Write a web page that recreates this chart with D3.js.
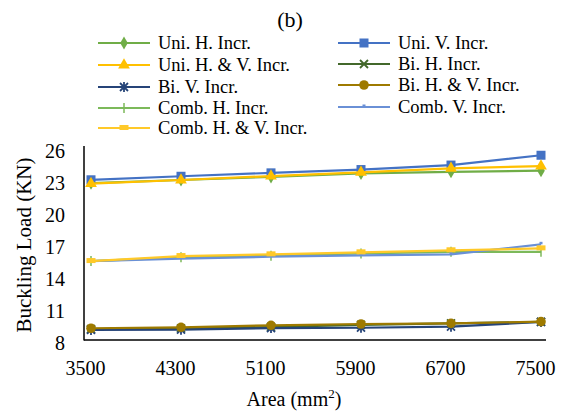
<!DOCTYPE html>
<html><head><meta charset="utf-8">
<script src="https://cdn.jsdelivr.net/npm/d3@7"></script>
<style>body{margin:0;background:#fff}svg{display:block}svg text{font-family:"Liberation Serif","Times New Roman",serif !important;fill:#000}</style>
</head><body><svg id="c" width="564" height="413"></svg>
<script>
const categories = [3500, 4300, 5100, 5900, 6700, 7500];
const yTicks = [8, 11, 14, 17, 20, 23, 26];
const uniH   = [22.7, 23.0, 23.3, 23.62, 23.77, 23.87];
const uniV   = [23.02, 23.35, 23.67, 23.98, 24.4, 25.32];
const uniHV  = [22.66, 23.0, 23.37, 23.72, 24.09, 24.31];
const biH    = [9.03, 9.1, 9.22, 9.41, 9.56, 9.69];
const biV    = [8.94, 8.97, 9.12, 9.15, 9.25, 9.69];
const biHV   = [9.1, 9.19, 9.38, 9.5, 9.56, 9.72];
const combH  = [15.4, 15.75, 15.9, 16.12, 16.27, 16.27];
const combV  = [15.4, 15.62, 15.81, 15.94, 16.03, 16.97];
const combHV = [15.4, 15.87, 16.03, 16.22, 16.41, 16.59];
const seriesNames = ["Uni. H. Incr.","Uni. V. Incr.","Uni. H. & V. Incr.","Bi. H. Incr.","Bi. V. Incr.","Bi. H. & V. Incr.","Comb. H. Incr.","Comb. V. Incr.","Comb. H. & V. Incr."];

const series = [
  {name:seriesNames[0], values:uniH,  color:"#70AD47", marker:"diamond"},
  {name:seriesNames[1], values:uniV,  color:"#4472C4", marker:"square"},
  {name:seriesNames[2], values:uniHV, color:"#FFC000", marker:"triangle"},
  {name:seriesNames[3], values:biH,   color:"#43682B", marker:"x"},
  {name:seriesNames[4], values:biV,   color:"#264478", marker:"star"},
  {name:seriesNames[5], values:biHV,  color:"#9E7A00", marker:"circle"},
  {name:seriesNames[6], values:combH, color:"#7CB95A", marker:"plus"},
  {name:seriesNames[7], values:combV, color:"#6A90D6", marker:"dot"},
  {name:seriesNames[8], values:combHV,color:"#FFC929", marker:"dash"}
];

const FONT = "'Liberation Serif','Times New Roman',serif";
const svg = d3.select("#c");
const x = d3.scalePoint().domain(categories).range([91, 541]);
const y = d3.scaleLinear().domain([8, 26]).range([340, 148]);

function drawMarker(g, type, color) {
  switch(type){
    case "diamond": g.append("path").attr("d", d3.symbol(d3.symbolDiamond, 50)()).attr("fill", color); break;
    case "square": g.append("rect").attr("x",-4.5).attr("y",-4.5).attr("width",9).attr("height",9).attr("fill",color); break;
    case "triangle": g.append("path").attr("d", d3.symbol(d3.symbolTriangle, 60)()).attr("fill", color); break;
    case "circle": g.append("circle").attr("r",4.8).attr("fill",color); break;
    case "x": g.append("path").attr("d","M-4,-4L4,4M-4,4L4,-4").attr("stroke",color).attr("stroke-width",1.8).attr("fill","none"); break;
    case "star": g.append("path").attr("d","M-4,-4L4,4M-4,4L4,-4M0,-5L0,5").attr("stroke",color).attr("stroke-width",1.8).attr("fill","none"); break;
    case "plus": g.append("path").attr("d","M0,-5L0,5").attr("stroke",color).attr("stroke-width",1.5).attr("fill","none"); break;
    case "dot": g.append("rect").attr("x",-1.5).attr("y",-2.5).attr("width",3).attr("height",2.5).attr("fill",color); break;
    case "dash": g.append("rect").attr("x",-4.5).attr("y",-3).attr("width",9).attr("height",5).attr("fill",color); break;
  }
}

// axes
const yAxis = svg.append("g").attr("transform","translate(84,3)")
  .call(d3.axisLeft(y).tickValues(yTicks).tickSize(0).tickPadding(19).tickFormat(d3.format("d")));
yAxis.attr("font-family", FONT).attr("font-size", 20);
yAxis.select(".domain").remove();
yAxis.selectAll("text").style("font-family",FONT).style("font-size","20px");
svg.append("line").attr("x1",84).attr("x2",84).attr("y1",146).attr("y2",340.5).attr("stroke","#000").attr("stroke-width",1.5);

const xAxis = svg.append("g").attr("transform","translate(-6,341)")
  .call(d3.axisBottom(x).tickSize(0).tickPadding(20));
xAxis.attr("font-family", FONT).attr("font-size", 20);
xAxis.select(".domain").remove();
xAxis.selectAll("text").style("font-family",FONT).style("font-size","20px");
svg.append("line").attr("x1",84).attr("x2",546).attr("y1",340).attr("y2",340).attr("stroke","#000").attr("stroke-width",1.5);

// lines
const line = d3.line().x((d,i)=>x(categories[i])).y(d=>y(d));
series.forEach(s=>{
  svg.append("path").datum(s.values).attr("d",line).attr("fill","none")
    .attr("stroke",s.color).attr("stroke-width",2.2).attr("stroke-linejoin","round");
  s.values.forEach((v,i)=>{
    const g = svg.append("g").attr("transform",`translate(${x(categories[i])},${y(v)})`);
    drawMarker(g, s.marker, s.color);
  });
});

// titles
svg.append("text").attr("x",290).attr("y",27).attr("text-anchor","middle").style("font-size","22px").text("(b)");
svg.append("text").attr("transform","translate(31,245) rotate(-90)").attr("text-anchor","middle").style("font-size","21px").text("Buckling Load (KN)");
const xt = svg.append("text").attr("x",294).attr("y",406).attr("text-anchor","middle").style("font-size","20px");
xt.append("tspan").text("Area (mm");
xt.append("tspan").style("font-size","13px").attr("dy",-8).text("2");
xt.append("tspan").attr("dy",8).text(")");

// legend
const leftRows = [43, 65, 87, 108, 128];
const rightRows = [43, 64, 85, 107];
series.forEach((s,i)=>{
  const col = i % 2, row = Math.floor(i/2);
  const lx = col===0 ? 98 : 338;
  const ly = col===0 ? leftRows[row] : rightRows[row];
  const g = svg.append("g").attr("transform",`translate(${lx},${ly})`);
  g.append("line").attr("x1",0).attr("x2",52).attr("stroke",s.color).attr("stroke-width",2.2);
  const m = g.append("g").attr("transform","translate(26,0)");
  drawMarker(m, s.marker, s.color);
  g.append("text").attr("x",60).attr("y",6).style("font-size","18.5px").text(s.name);
});
</script></body></html>
